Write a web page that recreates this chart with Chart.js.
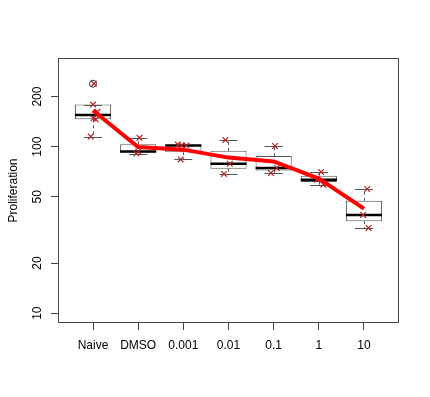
<!DOCTYPE html>
<html>
<head>
<meta charset="utf-8">
<script src="https://cdn.jsdelivr.net/npm/chart.js@4"></script>
<style>
  body { margin: 0; background: #fff; }
  #wrap { width: 430px; height: 397px; }
</style>
</head>
<body>
<div id="wrap"><canvas id="chart" width="430" height="397"></canvas></div>
<script>
// groups on the x axis
const labels = ['Naive', 'DMSO', '0.001', '0.01', '0.1', '1', '10'];
const yTicks = [10, 20, 50, 100, 200];

// box statistics
const q1 = [146, 92.4, 92.7, 73.8, 72, 61.3, 35.7];
const medians = [155, 93.7, 101.8, 79, 74.5, 63.4, 38.9];
const q3 = [179, 103.5, 102.6, 94.4, 87.8, 67, 47.3];
const whiskerLow = [115, 91, 83.9, 68.6, 69.5, 59.1, 32.5];
const whiskerHigh = [179, 113, 103, 109.7, 101, 70.5, 55.7];
const outlierX = [1];
const outlierY = [239];

// group means (red line)
const means = [165, 99.5, 96, 86, 81.5, 64.3, 42.5];

// individual (jittered) observations
const pointX = [1.02, 1.0, 1.1, 1.01, 1.06, 0.95, 2.03, 2.0, 1.96, 2.88, 2.96, 3.07, 2.94,
  3.93, 4.03, 3.9, 5.03, 5.07, 4.94, 6.05, 5.96, 6.1, 7.07, 6.98, 7.1];
const pointY = [239, 179, 162, 148, 146, 115, 113, 93.7, 91, 103, 102, 101.5, 83.9,
  109.7, 79, 68.6, 101, 74.5, 69.5, 70.5, 63.4, 59.1, 55.7, 38.9, 32.5];

const font = { family: 'Liberation Sans, Arial, sans-serif', size: 12 };

// medians, whiskers and staples, drawn right after the boxes
const boxExtras = {
  id: 'boxExtras',
  afterDatasetDraw(chart, args) {
    if (args.index !== 0) return;
    const { ctx } = chart;
    const y = chart.scales.y;
    args.meta.data.forEach((bar, i) => {
      const half = bar.width / 2;
      const px = Math.round(bar.x) + 0.5;
      ctx.save();
      ctx.strokeStyle = '#555';
      ctx.lineWidth = 1;
      ctx.setLineDash([3, 3]);
      ctx.beginPath();
      ctx.moveTo(px, y.getPixelForValue(q3[i]));
      ctx.lineTo(px, y.getPixelForValue(whiskerHigh[i]));
      ctx.moveTo(px, y.getPixelForValue(q1[i]));
      ctx.lineTo(px, y.getPixelForValue(whiskerLow[i]));
      ctx.stroke();
      ctx.setLineDash([]);
      ctx.beginPath();
      [whiskerHigh[i], whiskerLow[i]].forEach(v => {
        const py = Math.round(y.getPixelForValue(v)) + 0.5;
        ctx.moveTo(bar.x - half / 2, py);
        ctx.lineTo(bar.x + half / 2, py);
      });
      ctx.stroke();
      ctx.strokeStyle = '#000';
      ctx.lineWidth = 2.5;
      ctx.beginPath();
      const my = y.getPixelForValue(medians[i]);
      ctx.moveTo(bar.x - half, my);
      ctx.lineTo(bar.x + half, my);
      ctx.stroke();
      ctx.restore();
    });
  },
  afterDraw(chart) {
    const { ctx, chartArea: a } = chart;
    ctx.save();
    ctx.strokeStyle = '#444';
    ctx.lineWidth = 1;
    ctx.strokeRect(Math.round(a.left) + 0.5, Math.round(a.top) + 0.5,
      Math.round(a.right - a.left) - 1, Math.round(a.bottom - a.top) - 1);
    ctx.restore();
  }
};

new Chart(document.getElementById('chart'), {
  data: {
    datasets: [
      {
        type: 'bar',
        data: labels.map((_, i) => ({ x: i + 1, y: [q1[i], q3[i]] })),
        backgroundColor: '#fff',
        borderColor: '#555',
        borderWidth: 1,
        borderSkipped: false,
        barPercentage: 0.8,
        categoryPercentage: 1,
        order: 3
      },
      {
        type: 'scatter',
        data: outlierX.map((x, i) => ({ x, y: outlierY[i] })),
        pointStyle: 'circle',
        pointRadius: 3.5,
        backgroundColor: 'transparent',
        borderColor: '#333',
        borderWidth: 1,
        order: 2
      },
      {
        type: 'scatter',
        data: pointX.map((x, i) => ({ x, y: pointY[i] })),
        pointStyle: 'crossRot',
        pointRadius: 4,
        borderColor: '#b22222',
        borderWidth: 1.2,
        order: 1
      },
      {
        type: 'line',
        data: means.map((m, i) => ({ x: i + 1, y: m })),
        borderColor: '#ff0000',
        borderWidth: 4,
        pointRadius: 0,
        tension: 0,
        order: 0
      }
    ]
  },
  options: {
    responsive: false,
    animation: false,
    events: [],
    layout: { padding: { top: 58, right: 31, left: 0, bottom: 0 } },
    plugins: { legend: { display: false }, tooltip: { enabled: false } },
    scales: {
      x: {
        type: 'linear',
        offset: false,
        min: 0.225,
        max: 7.775,
        afterBuildTicks: s => { s.ticks = labels.map((_, i) => ({ value: i + 1 })); },
        afterFit: s => { s.height = 74; },
        ticks: { callback: (v, i) => labels[i], color: '#000', font, padding: 8, maxRotation: 0, autoSkip: false },
        grid: { offset: false, drawOnChartArea: false, tickLength: 7, color: '#444' },
        border: { display: false }
      },
      y: {
        type: 'logarithmic',
        min: 8.73,
        max: 341,
        afterBuildTicks: s => { s.ticks = yTicks.map(v => ({ value: v })); },
        afterFit: s => { s.width = 58; },
        ticks: {
          callback: v => String(v), color: '#000', font,
          minRotation: 90, maxRotation: 90, crossAlign: 'center', padding: 3
        },
        grid: { drawOnChartArea: false, tickLength: 7, color: '#444' },
        border: { display: false },
        title: { display: true, text: 'Proliferation', color: '#000', font, padding: { top: 6, bottom: 0 } }
      }
    }
  },
  plugins: [boxExtras]
});
</script>
</body>
</html>
